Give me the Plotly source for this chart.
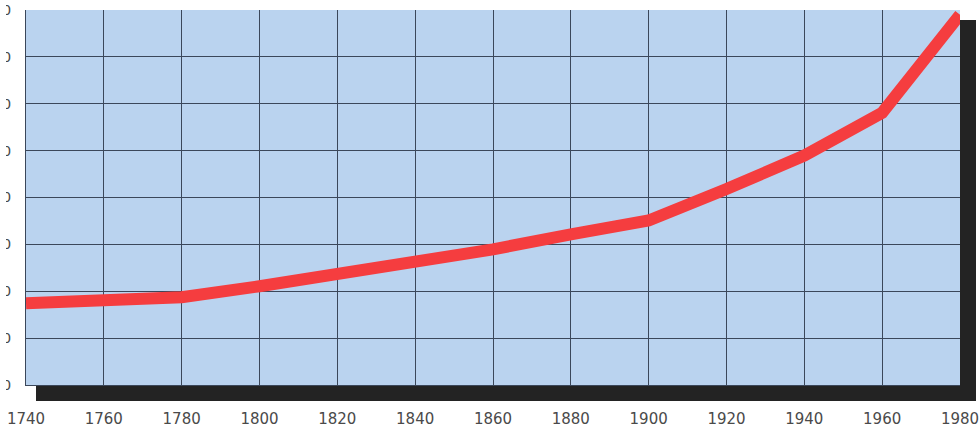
import plotly.graph_objects as go

years = [1740, 1760, 1780, 1800, 1820, 1840, 1860, 1880, 1900, 1920, 1940, 1960, 1980]
values = [872, 894, 936, 1053, 1181, 1319, 1447, 1606, 1755, 2090, 2447, 2904, 3950]
x_ticks = list(range(1740, 1981, 20))
y_ticks = list(range(0, 4001, 500))

W, H = 979, 428
# plot area in page pixels: x 26..960, y 10..385
L, T = 26, 10
R = W - 960
B = H - 385
pw, ph = W - L - R, H - T - B

def px_x(p):  # page px -> paper
    return (p - L) / pw

def px_y(p):
    return (H - B - p) / ph

fig = go.Figure()
fig.add_trace(go.Scatter(
    x=years, y=values, mode="lines",
    line=dict(color="#f53d3f", width=12),
    hoverinfo="skip", showlegend=False,
))

shadow = "#232323"
shapes = [
    dict(type="rect", xref="paper", yref="paper", layer="below",
         x0=px_x(36), x1=px_x(976), y0=px_y(401), y1=px_y(385),
         fillcolor=shadow, line=dict(width=0)),
    dict(type="rect", xref="paper", yref="paper", layer="below",
         x0=px_x(960), x1=px_x(976), y0=px_y(385), y1=px_y(20),
         fillcolor=shadow, line=dict(width=0)),
    # page edge crop over the y labels
    dict(type="rect", xref="paper", yref="paper", layer="above",
         x0=px_x(-20), x1=px_x(6), y0=px_y(390), y1=px_y(-20),
         fillcolor="white", line=dict(width=0)),
]

fig.update_layout(
    width=W, height=H,
    margin=dict(l=L, r=R, t=T, b=B, autoexpand=False),
    paper_bgcolor="white",
    plot_bgcolor="#bad3ef",
    shapes=shapes,
    font=dict(family="DejaVu Sans, sans-serif", size=15, color="#4a4a4a"),
)
fig.update_xaxes(
    range=[1740, 1980], tickvals=x_ticks, ticks="",
    showgrid=True, gridcolor="#3b475a", gridwidth=1,
    showline=True, linecolor="#3b475a", linewidth=1,
    zeroline=False, ticklabelstandoff=20, automargin=False,
    ticklabeloverflow="allow",
)
fig.update_yaxes(
    range=[0, 4000], tickvals=y_ticks, ticks="",
    showgrid=True, gridcolor="#3b475a", gridwidth=1,
    showline=True, linecolor="#3b475a", linewidth=1,
    zeroline=False, ticklabelstandoff=11, automargin=False,
    tickfont=dict(size=14), ticklabeloverflow="allow",
)

fig.write_html(
    "out.html",
    config={"displayModeBar": False},
    post_script="document.body.style.margin='0';document.body.style.overflow='hidden';",
)
